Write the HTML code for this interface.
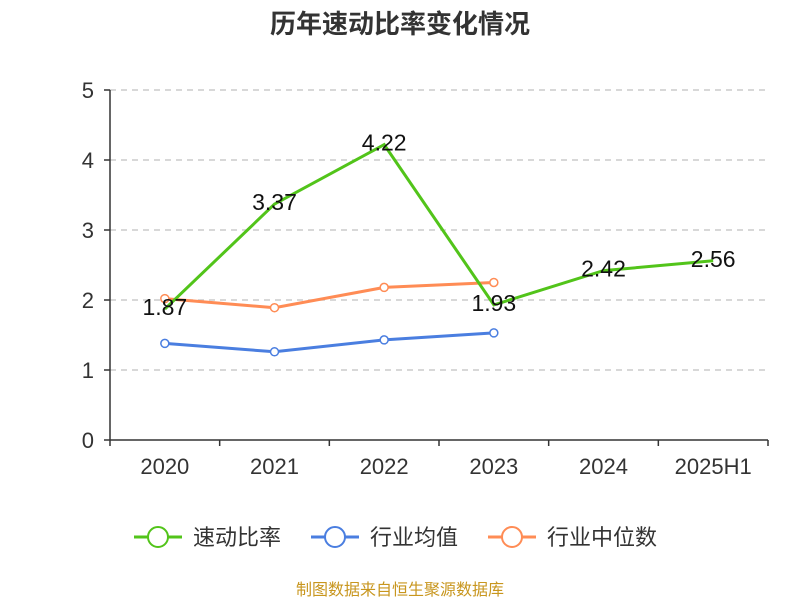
<!DOCTYPE html>
<html><head><meta charset="utf-8"><style>
body{margin:0;background:#fff;font-family:"Liberation Sans","Noto Sans CJK SC",sans-serif;}
</style></head><body>
<svg id="c" width="800" height="600" xmlns="http://www.w3.org/2000/svg">
<text x="400" y="33" text-anchor="middle" font-size="26" font-weight="bold" fill="#333" font-family="Liberation Sans,Noto Sans CJK SC,sans-serif">历年速动比率变化情况</text>
<g id="grid"></g><g id="axes"></g><g id="series"></g>
<g font-size="22" fill="#333" font-family="Liberation Sans,Noto Sans CJK SC,sans-serif">
 <g><line x1="134" y1="537" x2="182" y2="537" stroke="#52c41a" stroke-width="3"/><circle cx="158" cy="537" r="10" fill="#fff" stroke="#52c41a" stroke-width="2"/><text x="193" y="545">速动比率</text></g>
 <g><line x1="311" y1="537" x2="359" y2="537" stroke="#4a7ee0" stroke-width="3"/><circle cx="335" cy="537" r="10" fill="#fff" stroke="#4a7ee0" stroke-width="2"/><text x="370" y="545">行业均值</text></g>
 <g><line x1="488" y1="537" x2="536" y2="537" stroke="#ff8c55" stroke-width="3"/><circle cx="512" cy="537" r="10" fill="#fff" stroke="#ff8c55" stroke-width="2"/><text x="547" y="545">行业中位数</text></g>
</g>
<text x="400" y="595" text-anchor="middle" font-size="16" fill="#c8961e" font-family="Liberation Sans,Noto Sans CJK SC,sans-serif">制图数据来自恒生聚源数据库</text>
</svg>
<script>
const categories=["2020","2021","2022","2023","2024","2025H1"];
const quickRatio=[1.87,3.37,4.22,1.93,2.42,2.56];
const industryAvg=[1.38,1.26,1.43,1.53];
const industryMedian=[2.02,1.89,2.18,2.25];
const yTicks=[0,1,2,3,4,5];
const NS="http://www.w3.org/2000/svg";
const x0=110,x1=768,yb=440,yt=90,ymax=5;
const bw=(x1-x0)/categories.length;
const X=i=>x0+bw*(i+0.5);
const Y=v=>yb-(v/ymax)*(yb-yt);
function mk(tag,attrs,parent){const e=document.createElementNS(NS,tag);for(const k in attrs)e.setAttribute(k,attrs[k]);parent.appendChild(e);return e;}
const grid=document.getElementById('grid'),axes=document.getElementById('axes'),ser=document.getElementById('series');
yTicks.forEach(t=>{
 if(t>0){const g=mk('line',{x1:x0,x2:x1,y1:Y(t),y2:Y(t),stroke:'#ccc','stroke-dasharray':'6,5','stroke-width':1.5},grid);
 
 }
 mk('line',{x1:x0-6,x2:x0,y1:Y(t),y2:Y(t),stroke:'#333','stroke-width':1.5},axes);
 const l=mk('text',{x:x0-16,y:Y(t)+8,'text-anchor':'end','font-size':22,fill:'#333'},axes);l.textContent=t;
 
 
});
mk('line',{x1:x0,x2:x0,y1:yt,y2:yb,stroke:'#333','stroke-width':1.5},axes);
mk('line',{x1:x0,x2:x1,y1:yb,y2:yb,stroke:'#333','stroke-width':1.5},axes);
for(let i=0;i<=categories.length;i++)mk('line',{x1:x0+bw*i,x2:x0+bw*i,y1:yb,y2:yb+6,stroke:'#333','stroke-width':1.5},axes);
categories.forEach((c,i)=>{const l=mk('text',{x:X(i),y:474,'text-anchor':'middle','font-size':22,fill:'#333'},axes);l.textContent=c;
 
 });
function line(arr,color,name,markers){
 const p=mk('polyline',{points:arr.map((v,i)=>X(i)+','+Y(v)).join(' '),fill:'none',stroke:color,'stroke-width':3},ser);
 
 
 if(markers)arr.forEach((v,i)=>{const c=mk('circle',{cx:X(i),cy:Y(v),r:4,fill:'#fff',stroke:color,'stroke-width':1.5},ser);
  
  });
}
line(industryAvg,'#4a7ee0','industry-avg',true);
line(industryMedian,'#ff8c55','industry-median',true);
line(quickRatio,'#52c41a','quick-ratio',false);
quickRatio.forEach((v,i)=>{const t=mk('text',{x:X(i),y:Y(v)+6,'text-anchor':'middle','font-size':23,fill:'#111'},ser);t.textContent=v.toFixed(2);
 
 });
</script>
</body></html>
